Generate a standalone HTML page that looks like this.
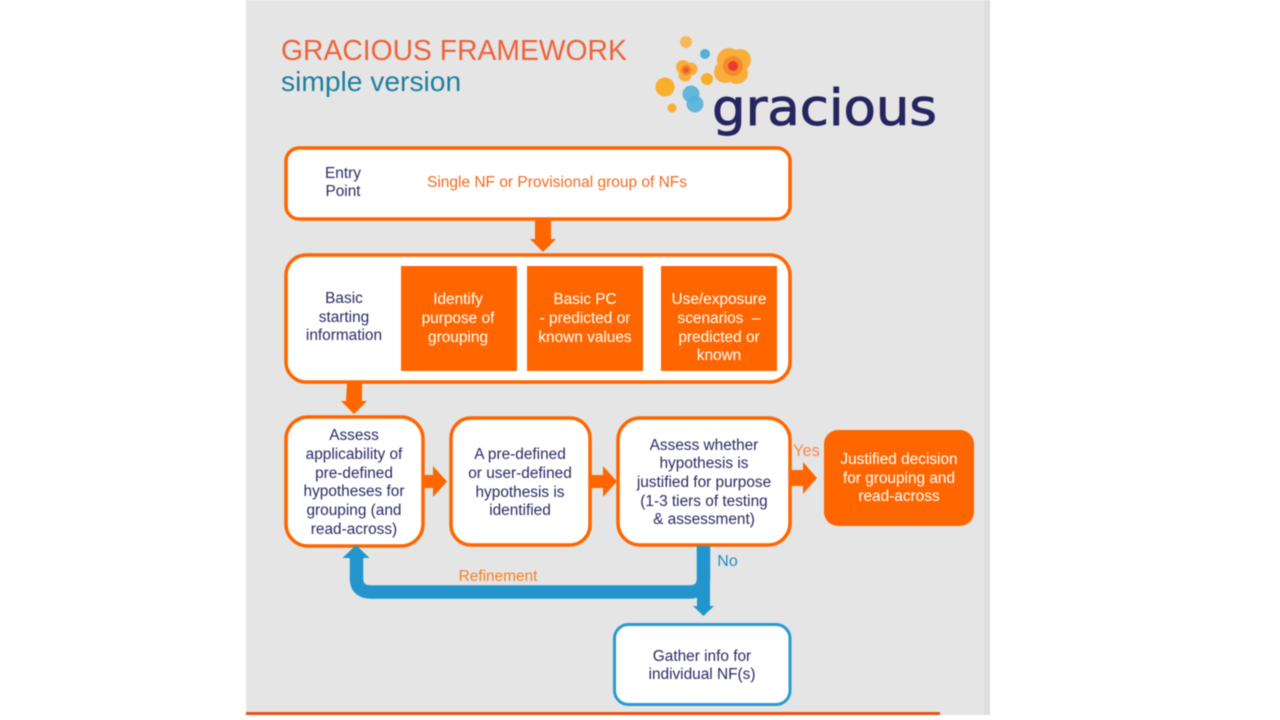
<!DOCTYPE html>
<html><head><meta charset="utf-8"><style>
html,body{margin:0;padding:0;background:#fff;width:1280px;height:720px;overflow:hidden}
svg{display:block;filter:blur(.45px)}
text{font-family:"Liberation Sans",sans-serif;text-anchor:middle;font-size:15.4px}
.n{fill:#2a2a66}.w{fill:#fff}.o{fill:#f26a21}.b{fill:#1f8fc4}
</style></head><body>
<svg width="1280" height="720" viewBox="0 0 1280 720" xmlns="http://www.w3.org/2000/svg">
<rect x="246" y="0" width="744" height="715" fill="#e5e5e5"/>
<rect x="984" y="0" width="6" height="715" fill="#dedede"/>
<rect x="246" y="712" width="694" height="3" fill="#f0500f"/>

<text x="281" y="60" style="text-anchor:start;font-size:28.3px" fill="#f0623a">GRACIOUS FRAMEWORK</text>
<text x="281" y="91" style="text-anchor:start;font-size:28.2px" fill="#1f7f9f">simple version</text>

<!-- logo -->
<g>
<circle cx="686" cy="42" r="6" fill="#f8b858"/>
<circle cx="705" cy="54" r="5" fill="#55b0d8"/>
<circle cx="707" cy="79" r="6" fill="#f9ae2c"/>
<circle cx="665" cy="87" r="9.500" fill="#f9ae2c"/>
<circle cx="672" cy="108" r="4.500" fill="#f9ae2c"/>
<g fill="#55b0d8" fill-opacity=".9">
<circle cx="691" cy="94" r="8.500"/>
<circle cx="695" cy="104" r="8.500"/>
</g>
<g fill="#f9ae3c">
<circle cx="683" cy="67" r="7"/><circle cx="691" cy="69" r="6.500"/><circle cx="685" cy="75" r="6.500"/>
<circle cx="729" cy="60" r="12"/><circle cx="740" cy="60" r="11"/><circle cx="725" cy="72" r="11"/><circle cx="737" cy="73" r="11"/>
</g>
<circle cx="686" cy="70" r="5.500" fill="#f58a2a"/>
<circle cx="686" cy="70" r="3" fill="#ee5a2a"/>
<circle cx="733" cy="66" r="10" fill="#f58a2a"/>
<circle cx="733" cy="66" r="5" fill="#ee3a2d"/>
<text x="824.500" y="125" style="font-family:'DejaVu Sans',sans-serif;font-size:50px" fill="#27255f" stroke="#27255f" stroke-width=".9" textLength="225" lengthAdjust="spacingAndGlyphs">gracious</text>
</g>

<!-- boxes -->
<g fill="#fff" stroke="#ff6600" stroke-width="3.5">
<rect x="286" y="148" width="504" height="71" rx="13"/>
<rect x="286" y="255" width="504" height="127" rx="20"/>
<rect x="286" y="417" width="137" height="129" rx="22"/>
<rect x="451" y="418" width="139" height="127" rx="20"/>
<rect x="618" y="418" width="172" height="127" rx="22"/>
</g>
<rect x="614.500" y="624.500" width="175.500" height="80" rx="14" fill="#fff" stroke="#2a9ad0" stroke-width="3"/>
<g fill="#ff6600">
<rect x="401" y="266" width="116" height="105"/>
<rect x="527" y="266" width="116" height="105"/>
<rect x="661" y="266" width="116" height="105"/>
<rect x="824" y="430" width="150" height="96" rx="14"/>
<!-- arrows -->
<path d="M535 220h16v19h5l-13 13-13-13h5z"/>
<path d="M347 383h15v18h5l-13 13-13-13h5z"/>
<path d="M423 475h10v-9l14 15.500-14 15.500v-9h-10z"/>
<path d="M590 475h13v-9l14 15.500-14 15.500v-9h-13z"/>
<path d="M790 470h13v-8l14 16-14 16v-8h-13z"/>
</g>
<!-- blue connector -->
<path d="M703.500 546V578Q703.500 592 689 592H371Q356.500 592 356.500 578V557" fill="none" stroke="#2296cc" stroke-width="13.500"/>
<path d="M342.500 558h27l-13.500-13z" fill="#2296cc"/>
<path d="M697 546h13v60h4l-10.500 10-10.500-10h4z" fill="#2296cc"/>

<!-- text -->
<text x="343" y="178" class="n">Entry</text>
<text x="343" y="196" class="n">Point</text>
<text x="557" y="187" fill="#f26a21" textLength="260" lengthAdjust="spacingAndGlyphs">Single NF or Provisional group of NFs</text>

<text x="344" y="303" class="n">Basic</text>
<text x="344" y="322" class="n">starting</text>
<text x="344" y="340" class="n">information</text>

<text x="458" y="304" class="w">Identify</text>
<text x="458" y="323" class="w">purpose of</text>
<text x="458" y="342" class="w">grouping</text>

<text x="585" y="304" class="w">Basic PC</text>
<text x="585" y="323" class="w">- predicted or</text>
<text x="585" y="342" class="w">known values</text>

<text x="719" y="304" class="w">Use/exposure</text>
<text x="719" y="323" class="w">scenarios &#160;–</text>
<text x="719" y="342" class="w">predicted or</text>
<text x="719" y="360" class="w">known</text>

<text x="354" y="440" class="n">Assess</text>
<text x="354" y="459" class="n">applicability of</text>
<text x="354" y="478" class="n">pre-defined</text>
<text x="354" y="496" class="n">hypotheses for</text>
<text x="354" y="515" class="n">grouping (and</text>
<text x="354" y="534" class="n">read-across)</text>

<text x="520" y="459" class="n">A pre-defined</text>
<text x="520" y="478" class="n">or user-defined</text>
<text x="520" y="497" class="n">hypothesis is</text>
<text x="520" y="515" class="n">identified</text>

<text x="704" y="450" class="n">Assess whether</text>
<text x="704" y="468" class="n">hypothesis is</text>
<text x="704" y="487" class="n">justified for purpose</text>
<text x="704" y="506" class="n">(1-3 tiers of testing</text>
<text x="704" y="524" class="n">&amp; assessment)</text>

<text x="899" y="464" class="w">Justified decision</text>
<text x="899" y="483" class="w">for grouping and</text>
<text x="899" y="501" class="w">read-across</text>

<text x="806.500" y="456" style="font-size:16.500px" fill="#f58a4a">Yes</text>
<text x="727.500" y="566" style="font-size:16px" class="b">No</text>
<text x="498" y="581" fill="#f58220">Refinement</text>
<text x="702" y="661" class="n">Gather info for</text>
<text x="702" y="679" class="n">individual NF(s)</text>
</svg>
</body></html>
